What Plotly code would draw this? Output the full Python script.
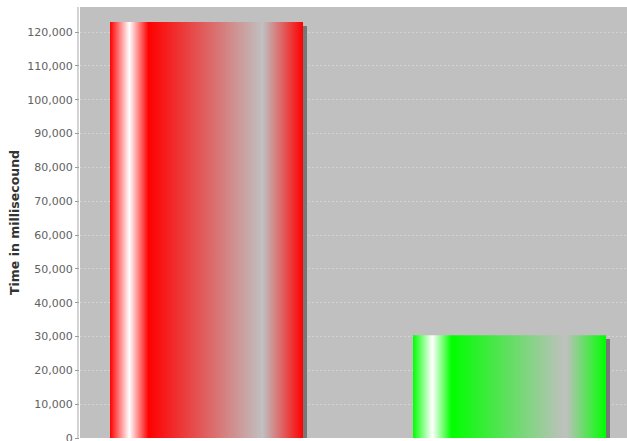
import plotly.graph_objects as go

# ---- data ----
categories = ["Series 1", "Series 2"]
values = [123000, 30400]
base_colors = ["#ff0000", "#00ff00"]
y_tick_values = list(range(0, 120001, 10000))

# ---- styling ----
BAR_W = 0.637
SHADOW_DX = 0.0132   # ~4 px
SHADOW_DY = 1180     # ~4 px
BG_GRAY = "#c0c0c0"

positions = list(range(len(categories)))

fig = go.Figure()

# shadows
fig.add_trace(go.Bar(
    x=positions,
    y=[v - SHADOW_DY for v in values],
    width=[BAR_W] * len(values),
    offset=[-BAR_W / 2 + SHADOW_DX] * len(values),
    marker=dict(color="#777777", line=dict(width=0)),
    hoverinfo="skip",
    showlegend=False,
))

# gradient bars
for p, v, c in zip(positions, values, base_colors):
    x0, x1 = p - BAR_W / 2, p + BAR_W / 2
    fig.add_trace(go.Scatter(
        x=[x0, x1, x1, x0, x0],
        y=[0, 0, v, v, 0],
        mode="lines",
        fill="toself",
        line=dict(width=0, color="rgba(0,0,0,0)"),
        fillgradient=dict(
            type="horizontal",
            start=x0,
            stop=x1,
            colorscale=[
                [0.0, c],
                [0.10, "#ffffff"],
                [0.20, c],
                [0.79, BG_GRAY],
                [1.0, c],
            ],
        ),
        hoverinfo="skip",
        showlegend=False,
    ))

fig.update_layout(
    width=627,
    height=441,
    margin=dict(l=80, r=0, t=7, b=3, autoexpand=False),
    paper_bgcolor="#ffffff",
    plot_bgcolor=BG_GRAY,
    bargap=0,
    showlegend=False,
    xaxis=dict(
        range=[-0.4175, 1.3878],
        showticklabels=False,
        showgrid=False,
        zeroline=False,
        showline=False,
        ticks="",
        fixedrange=True,
        automargin=False,
    ),
    yaxis=dict(
        range=[0, 127440],
        tickvals=y_tick_values,
        tickformat=",d",
        tickfont=dict(family="DejaVu Sans", size=11, color="#626262"),
        ticklabeloverflow="allow",
        ticks="outside",
        ticklen=4,
        tickcolor="#9a9a9a",
        showgrid=True,
        gridcolor="rgba(255,255,255,0.32)",
        griddash="2px,2px",
        gridwidth=1,
        zeroline=False,
        showline=False,
        automargin=False,
        title=dict(
            text="Time in millisecound",
            font=dict(family="DejaVu Sans", size=12.5, color="#333333", weight="bold"),
            standoff=4,
        ),
        fixedrange=True,
    ),
    shapes=[
        dict(type="line", xref="paper", yref="paper", x0=-0.0037, x1=-0.0037,
             y0=0, y1=1, line=dict(color="#a8a8a8", width=1)),
    ],
)

fig.write_html("out.html")
